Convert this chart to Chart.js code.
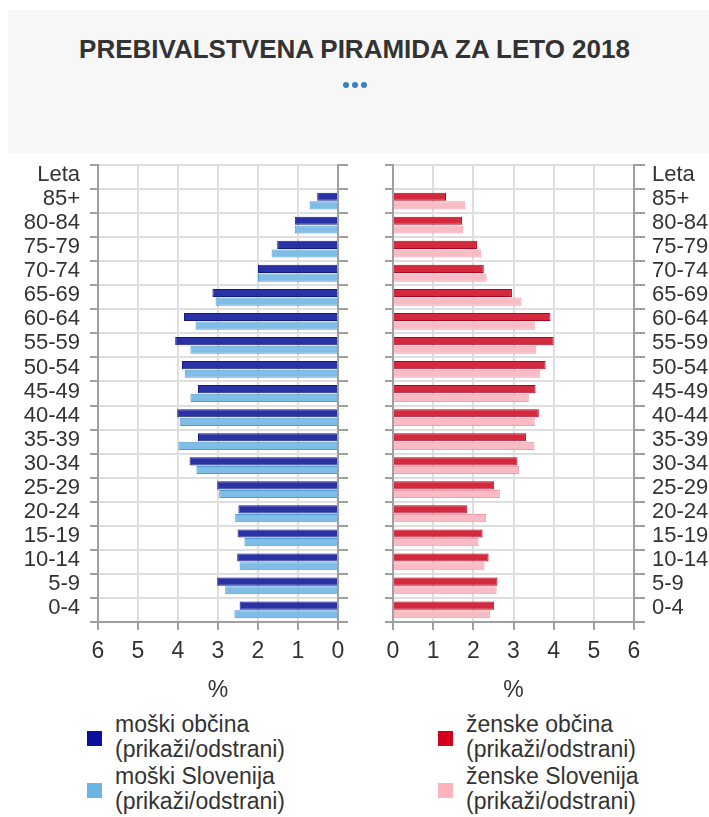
<!DOCTYPE html>
<html>
<head>
<meta charset="utf-8">
<script src="https://cdn.jsdelivr.net/npm/chart.js@4"></script>
<style>
  body { margin: 0; background: #fff; width: 709px; height: 817px; overflow: hidden; position: relative;
         font-family: "Liberation Sans", Arial, sans-serif; color: #333; }
  #head { position: absolute; left: 8px; top: 10px; width: 701px; height: 143px; background: #f7f7f7; }
  #title { position: absolute; left: 0; top: 34px; width: 709px; text-align: center;
           font-size: 26px; font-weight: bold; color: #333; }
  #dots { position: absolute; left: 0; top: 82px; width: 709px; text-align: center; font-size: 0; }
  #dots span { display: inline-block; width: 6px; height: 6px; border-radius: 50%; background: #3a7fc1; margin: 0 1.5px; }
  .wrap { position: absolute; top: 155px; }
  .leg { position: absolute; font-size: 23px; line-height: 25px; color: #333; }
  .leg i { position: absolute; width: 15px; height: 15px; left: -28px; top: 19px; }
</style>
</head>
<body>
<div id="head"></div>
<div id="title">PREBIVALSTVENA PIRAMIDA ZA LETO 2018</div>
<div id="dots"><span></span><span></span><span></span></div>

<div class="wrap" style="left:0"><canvas id="men" width="355" height="555"></canvas></div>
<div class="wrap" style="left:355px"><canvas id="women" width="354" height="555"></canvas></div>

<div class="leg" style="left:115px; top:712px"><i style="background:#0c109c"></i>moški občina<br>(prikaži/odstrani)</div>
<div class="leg" style="left:115px; top:764px"><i style="background:#6cb4e4"></i>moški Slovenija<br>(prikaži/odstrani)</div>
<div class="leg" style="left:466px; top:712px"><i style="background:#d3001b"></i>ženske občina<br>(prikaži/odstrani)</div>
<div class="leg" style="left:466px; top:764px"><i style="background:#ffb4bd"></i>ženske Slovenija<br>(prikaži/odstrani)</div>

<script>
// age groups, top row "Leta" is the header row with no bars
const ages = ['Leta', '85+', '80-84', '75-79', '70-74', '65-69', '60-64', '55-59', '50-54', '45-49',
  '40-44', '35-39', '30-34', '25-29', '20-24', '15-19', '10-14', '5-9', '0-4'];

// shares in %
const menMunicipality = [null, 0.52, 1.08, 1.52, 2.0, 3.14, 3.85, 4.07, 3.9, 3.5, 4.02, 3.5, 3.71, 3.02, 2.49, 2.51, 2.52, 3.02, 2.46];
const menSlovenia = [null, 0.71, 1.08, 1.66, 2.0, 3.06, 3.56, 3.69, 3.83, 3.69, 3.96, 3.99, 3.54, 2.97, 2.57, 2.34, 2.46, 2.82, 2.59];
const womenMunicipality = [null, 1.32, 1.72, 2.09, 2.26, 2.96, 3.92, 4.0, 3.8, 3.55, 3.63, 3.31, 3.1, 2.52, 1.84, 2.23, 2.38, 2.6, 2.52];
const womenSlovenia = [null, 1.8, 1.74, 2.2, 2.33, 3.2, 3.53, 3.57, 3.67, 3.38, 3.53, 3.52, 3.14, 2.66, 2.32, 2.13, 2.28, 2.58, 2.42];

const xMax = 6;

const font = { family: '"Liberation Sans", Arial, sans-serif', size: 23 };
const ageFont = { family: '"Liberation Sans", Arial, sans-serif', size: 22 };
const gridColor = '#dedede';
const axisColor = '#a0a0a0';

function bars(label, data, fill, border) {
  return {
    label: label,
    data: data,
    backgroundColor: fill,
    borderColor: border,
    borderWidth: 1,
    categoryPercentage: 0.72,
    barPercentage: 0.94
  };
}

function makeChart(id, datasets, side, widths) {
  const other = side === 'left' ? 'right' : 'left';
  // no extra room for half labels, the chart area should start right under the top padding
  const noPad = (s) => { s.paddingTop = 0; s.paddingBottom = 0; };
  return new Chart(document.getElementById(id), {
    type: 'bar',
    data: { labels: ages, datasets: datasets },
    options: {
      indexAxis: 'y',
      responsive: false,
      animation: false,
      layout: { padding: { top: 10 } },
      plugins: { legend: { display: false }, tooltip: { enabled: false } },
      scales: {
        x: {
          position: 'bottom',
          min: 0,
          max: xMax,
          reverse: side === 'left',
          ticks: { stepSize: 1, color: '#333', font: font, padding: 8 },
          grid: { color: gridColor, lineWidth: 2, tickColor: axisColor, tickLength: 8 },
          border: { color: axisColor, width: 2 },
          title: { display: true, text: '%', color: '#333', font: font, padding: { top: 4, bottom: 6 } },
          afterFit: (s) => { s.height = 88; }
        },
        y: {
          type: 'category',
          position: side,
          offset: true,
          ticks: { color: '#333', font: ageFont, autoSkip: false, padding: side === 'left' ? 10 : 7, labelOffset: -2 },
          grid: { offset: true, color: gridColor, lineWidth: 2, tickColor: axisColor, tickLength: side === 'left' ? 8 : 11 },
          border: { color: axisColor, width: 2 },
          afterFit: (s) => { s.width = widths[0]; noPad(s); }
        },
        y2: {
          type: 'category',
          position: other,
          offset: true,
          ticks: { display: false },
          grid: { offset: true, drawOnChartArea: false, tickColor: axisColor, lineWidth: 2, tickLength: side === 'left' ? 10 : 8 },
          border: { color: axisColor, width: 2 },
          afterFit: (s) => { s.width = widths[1]; noPad(s); }
        }
      }
    }
  });
}

makeChart('men', [
  bars('moški občina', menMunicipality, '#2a31a4', '#141a8c'),
  bars('moški Slovenija', menSlovenia, '#7fbde6', '#4f9cd6')
], 'left', [98, 17]);

makeChart('women', [
  bars('ženske občina', womenMunicipality, '#d42a3f', '#b8001e'),
  bars('ženske Slovenija', womenSlovenia, '#f9bcc5', '#f29aa7')
], 'right', [75, 38]);
</script>
</body>
</html>
